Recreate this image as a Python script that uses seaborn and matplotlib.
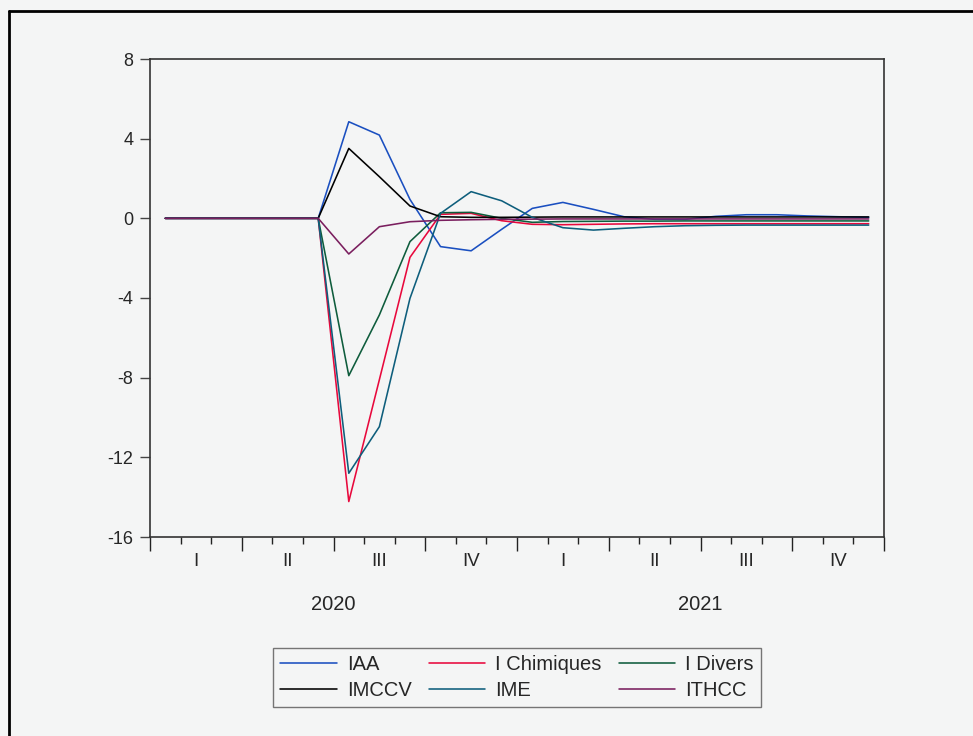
import numpy as np
import pandas as pd
import matplotlib
matplotlib.use("Agg")
import matplotlib.pyplot as plt
from matplotlib.lines import Line2D
from matplotlib.ticker import MultipleLocator
import seaborn as sns

# monthly responses, Jan 2020 .. Dec 2021
months = pd.period_range("2020-01", "2021-12", freq="M")
iaa = [0, 0, 0, 0, 0, 0, 4.85, 4.18, 0.95, -1.42, -1.63, -0.55,
       0.5, 0.8, 0.45, 0.08, -0.05, -0.05, 0.1, 0.18, 0.18, 0.12, 0.08, 0.05]
i_chimiques = [0, 0, 0, 0, 0, 0, -14.22, -8.1, -1.96, 0.2, 0.25, -0.12,
               -0.3, -0.32, -0.3, -0.28, -0.27, -0.27, -0.27, -0.27, -0.27, -0.27, -0.27, -0.27]
i_divers = [0, 0, 0, 0, 0, 0, -7.9, -4.85, -1.17, 0.28, 0.3, 0.0,
            -0.2, -0.16, -0.15, -0.14, -0.14, -0.13, -0.13, -0.13, -0.13, -0.13, -0.13, -0.13]
imccv = [0, 0, 0, 0, 0, 0, 3.51, 2.09, 0.62, 0.08, 0.05, 0.05,
         0.06, 0.07, 0.07, 0.07, 0.07, 0.07, 0.07, 0.07, 0.07, 0.07, 0.07, 0.07]
ime = [0, 0, 0, 0, 0, 0, -12.8, -10.46, -4.02, 0.25, 1.34, 0.88,
       0.05, -0.47, -0.59, -0.5, -0.42, -0.37, -0.35, -0.34, -0.34, -0.34, -0.34, -0.34]
ithcc = [0, 0, 0, 0, 0, 0, -1.79, -0.42, -0.17, -0.1, -0.07, -0.05,
         -0.04, -0.03, -0.03, -0.03, -0.03, -0.03, -0.03, -0.03, -0.03, -0.03, -0.03, -0.03]

series_names = ["IAA", "I Chimiques", "I Divers", "IMCCV", "IME", "ITHCC"]
colors = ["#1a4fc0", "#e8083c", "#0e5c3c", "#000000", "#0e5e7c", "#7a1e5e"]
quarter_labels = ["I", "II", "III", "IV"]
years = ["2020", "2021"]
y_ticks = [8, 4, 0, -4, -8, -12, -16]

bg = "#f4f5f5"
sns.set_theme(style="white")
plt.rcParams["font.family"] = ["Liberation Sans", "DejaVu Sans"]

df = pd.DataFrame({"IAA": iaa, "I Chimiques": i_chimiques, "I Divers": i_divers,
                   "IMCCV": imccv, "IME": ime, "ITHCC": ithcc})
df["x"] = np.arange(len(months)) + 0.5
long = df.melt(id_vars="x", var_name="serie", value_name="valeur")

fig = plt.figure(figsize=(9.73, 7.36), dpi=100, facecolor=bg)
ax = fig.add_axes([150 / 973, 1 - 537 / 736, 734 / 973, 478 / 736])
ax.set_facecolor(bg)

sns.lineplot(data=long, x="x", y="valeur", hue="serie", hue_order=series_names,
             palette=colors, linewidth=1.15, legend=False, ax=ax)

ax.set_xlim(0, len(months))
ax.set_ylim(-16, 8)
ax.set_yticks(y_ticks)
ax.set_yticklabels([str(t) for t in y_ticks], fontsize=13)
ax.xaxis.set_major_locator(MultipleLocator(3))
ax.xaxis.set_minor_locator(MultipleLocator(1))
ax.set_xticklabels([])
ax.tick_params(axis="x", which="major", direction="out", length=10, width=1, color="#222222")
ax.tick_params(axis="x", which="minor", direction="out", length=5, width=1, color="#222222")
ax.tick_params(axis="y", direction="out", length=7, width=1, color="#444444", pad=5)
ax.tick_params(left=True, bottom=True, which="both")
ax.set_xlabel("")
ax.set_ylabel("")
for side in ["left", "right", "top", "bottom"]:
    ax.spines[side].set_visible(True)
    ax.spines[side].set_color("#333333")
    ax.spines[side].set_linewidth(1.2)

trans = ax.get_xaxis_transform()
for q in range(8):
    ax.text(q * 3 + 1.5, -25 / 478, quarter_labels[q % 4], transform=trans,
            ha="center", va="center", fontsize=13.5)
for k, yr in enumerate(years):
    ax.text(k * 12 + 6, -68 / 478, yr, transform=trans,
            ha="center", va="center", fontsize=14.5)

# legend: column-wise fill -> reorder handles
order = [0, 3, 1, 4, 2, 5]
handles = [Line2D([], [], color=colors[i], lw=1.15) for i in order]
labels = [series_names[i] for i in order]
leg = fig.legend(handles, labels, ncol=3, loc="center",
                 bbox_to_anchor=(517 / 973, 1 - 677.5 / 736),
                 fontsize=14.5, frameon=True, fancybox=False, shadow=False,
                 handlelength=2.8, handletextpad=0.5, columnspacing=0.85,
                 labelspacing=0.35, borderpad=0.35, borderaxespad=0)
leg.get_frame().set_edgecolor("#555555")
leg.get_frame().set_linewidth(1.0)
leg.get_frame().set_facecolor(bg)

# outer frame (left and top edges visible)
fig.add_artist(Line2D([8.5 / 973, 8.5 / 973], [0, 1 - 10.5 / 736],
                      transform=fig.transFigure, color="black", lw=2))
fig.add_artist(Line2D([8.5 / 973, 1], [1 - 10.5 / 736, 1 - 10.5 / 736],
                      transform=fig.transFigure, color="black", lw=2))

fig.savefig("out.png", dpi=100, facecolor=bg)
